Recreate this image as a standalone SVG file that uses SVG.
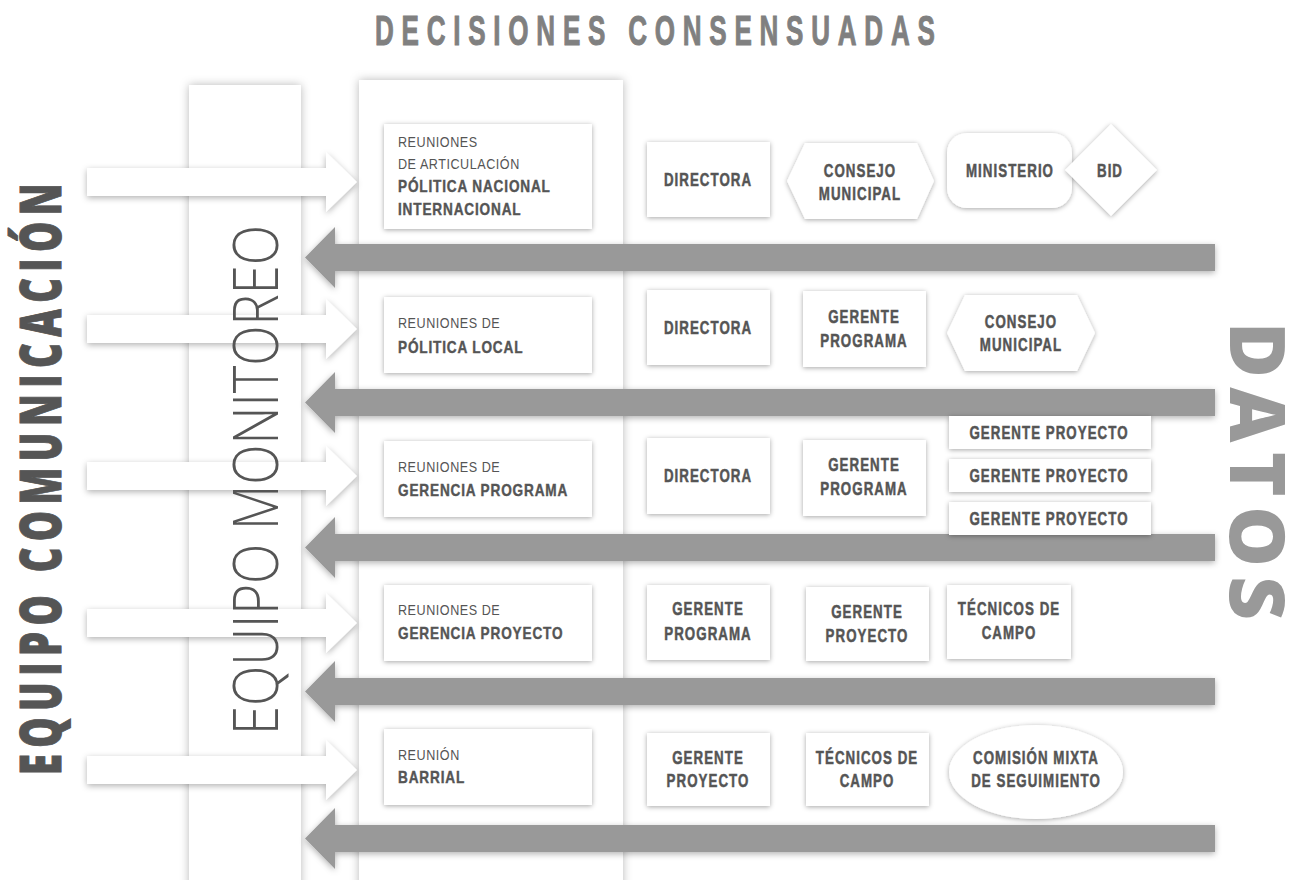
<svg xmlns="http://www.w3.org/2000/svg" width="1297" height="880" viewBox="0 0 1297 880">
<defs>
<filter id="psh" x="-20%" y="-5%" width="140%" height="110%"><feDropShadow dx="0" dy="0" stdDeviation="5" flood-color="#000" flood-opacity="0.28"/></filter>
<filter id="sh" x="-20%" y="-30%" width="140%" height="160%"><feDropShadow dx="0" dy="1" stdDeviation="2.5" flood-color="#000" flood-opacity="0.35"/></filter>
<filter id="ash" x="-5%" y="-40%" width="110%" height="180%"><feDropShadow dx="0" dy="2" stdDeviation="3" flood-color="#000" flood-opacity="0.3"/></filter>
</defs>
<style>
.panel{fill:#fff;filter:url(#psh)}
.box{fill:#fff;filter:url(#sh)}
.wa{fill:#fff;filter:url(#ash)}
.ga{fill:#999;filter:url(#ash)}
.nt{font-family:"Liberation Sans",Arial,sans-serif;font-weight:bold;font-size:18px;fill:#555;stroke:#555;stroke-width:0.5px;letter-spacing:1.4px;text-anchor:middle}
.ml{font-family:"Liberation Sans",Arial,sans-serif;font-size:14px;fill:#555;letter-spacing:0.6px}
.mb{font-family:"Liberation Sans",Arial,sans-serif;font-weight:bold;font-size:16px;fill:#555;stroke:#555;stroke-width:0.4px;letter-spacing:1px}
.title{font-family:"Liberation Sans",Arial,sans-serif;font-weight:bold;font-size:42px;fill:#808080;stroke:#808080;stroke-width:1px}
.com{font-family:"Open Sans","Liberation Sans",sans-serif;font-weight:800;font-size:56px;fill:#555;stroke:#555;stroke-width:1px}
.mon{font-family:"Open Sans","Liberation Sans",sans-serif;font-weight:300;font-size:62px;fill:#555}
.dat{font-family:"Open Sans","Liberation Sans",sans-serif;font-weight:800;font-size:76px;fill:#999}
</style>
<rect width="1297" height="880" fill="#fff"/>

<text class="title" transform="translate(375,45) scale(0.62,1)" textLength="903" lengthAdjust="spacing">DECISIONES CONSENSUADAS</text>

<g id="col-monitoreo"><rect class="panel" x="189" y="85" width="112" height="810"/></g>
<g id="col-reuniones"><rect class="panel" x="359" y="80" width="264" height="815"/></g>

<g id="connectors">
<polygon class="wa" points="87,168 326,168 326,152 357,182 326,212 326,196 87,196"/>
<polygon class="wa" points="87,315 326,315 326,299 357,329 326,359 326,343 87,343"/>
<polygon class="wa" points="87,462 326,462 326,446 357,476 326,506 326,490 87,490"/>
<polygon class="wa" points="87,609 326,609 326,593 357,623 326,653 326,637 87,637"/>
<polygon class="wa" points="87,756 326,756 326,740 357,770 326,800 326,784 87,784"/>
<polygon class="ga" points="1215,244 335,244 335,227 305,257.5 335,288 335,271 1215,271"/>
<polygon class="ga" points="1215,389 335,389 335,372 305,402.5 335,433 335,416 1215,416"/>
<polygon class="ga" points="1215,534 335,534 335,517 305,547.5 335,578 335,561 1215,561"/>
<polygon class="ga" points="1215,678 335,678 335,661 305,691.5 335,722 335,705 1215,705"/>
<polygon class="ga" points="1215,825 335,825 335,808 305,838.5 335,869 335,852 1215,852"/>
</g>

<text class="com" transform="translate(61,775) rotate(-90) scale(0.68,1)" textLength="870" lengthAdjust="spacing">EQUIPO COMUNICACIÓN</text>
<text class="mon" transform="translate(278,735) rotate(-90)" textLength="510" lengthAdjust="spacingAndGlyphs">EQUIPO MONITOREO</text>
<text class="dat" transform="translate(1230,322) rotate(90)" textLength="298" lengthAdjust="spacing">DATOS</text>

<!-- meeting boxes -->
<g id="m1"><rect class="box" x="384" y="124" width="208" height="105"/>
<text class="ml" transform="translate(398,147) scale(0.9,1)">REUNIONES</text>
<text class="ml" transform="translate(398,169) scale(0.9,1)">DE ARTICULACIÓN</text>
<text class="mb" transform="translate(398,192) scale(0.85,1)">PÓLITICA NACIONAL</text>
<text class="mb" transform="translate(398,215) scale(0.85,1)">INTERNACIONAL</text></g>
<g id="m2"><rect class="box" x="384" y="297" width="208" height="76"/>
<text class="ml" transform="translate(398,328) scale(0.9,1)">REUNIONES DE</text>
<text class="mb" transform="translate(398,353) scale(0.85,1)">PÓLITICA LOCAL</text></g>
<g id="m3"><rect class="box" x="384" y="441" width="208" height="76"/>
<text class="ml" transform="translate(398,472) scale(0.9,1)">REUNIONES DE</text>
<text class="mb" transform="translate(398,496) scale(0.85,1)">GERENCIA PROGRAMA</text></g>
<g id="m4"><rect class="box" x="384" y="585" width="208" height="76"/>
<text class="ml" transform="translate(398,615) scale(0.9,1)">REUNIONES DE</text>
<text class="mb" transform="translate(398,639) scale(0.85,1)">GERENCIA PROYECTO</text></g>
<g id="m5"><rect class="box" x="384" y="729" width="208" height="76"/>
<text class="ml" transform="translate(398,760) scale(0.9,1)">REUNIÓN</text>
<text class="mb" transform="translate(398,783) scale(0.85,1)">BARRIAL</text></g>

<!-- row 1 -->
<g id="r1-directora"><rect class="box" x="647" y="142" width="123" height="75"/><text class="nt" transform="translate(708,186) scale(0.74,1)">DIRECTORA</text></g>
<g id="r1-consejo"><polygon class="box" points="787,181 805,143 917,143 934,181 917,219 805,219"/><text class="nt" transform="translate(860,177) scale(0.74,1)">CONSEJO</text><text class="nt" transform="translate(860,200) scale(0.74,1)">MUNICIPAL</text></g>
<g id="r1-ministerio"><rect class="box" x="947" y="133" width="125" height="75" rx="20"/><text class="nt" transform="translate(1010,177) scale(0.74,1)">MINISTERIO</text></g>
<g id="r1-bid"><polygon class="box" points="1111,124 1157,170 1111,216 1065,170"/><text class="nt" transform="translate(1110,177) scale(0.74,1)">BID</text></g>

<!-- row 2 -->
<g id="r2-directora"><rect class="box" x="647" y="290" width="123" height="75"/><text class="nt" transform="translate(708,334) scale(0.74,1)">DIRECTORA</text></g>
<g id="r2-gerente"><rect class="box" x="803" y="291" width="123" height="76"/><text class="nt" transform="translate(864,323) scale(0.74,1)">GERENTE</text><text class="nt" transform="translate(864,347) scale(0.74,1)">PROGRAMA</text></g>
<g id="r2-consejo"><polygon class="box" points="947,333 965,295 1077,295 1095,333 1077,371 965,371"/><text class="nt" transform="translate(1021,328) scale(0.74,1)">CONSEJO</text><text class="nt" transform="translate(1021,351) scale(0.74,1)">MUNICIPAL</text></g>

<!-- row 3 -->
<g id="r3-directora"><rect class="box" x="647" y="438" width="123" height="76"/><text class="nt" transform="translate(708,482) scale(0.74,1)">DIRECTORA</text></g>
<g id="r3-gerente"><rect class="box" x="803" y="440" width="123" height="76"/><text class="nt" transform="translate(864,471) scale(0.74,1)">GERENTE</text><text class="nt" transform="translate(864,495) scale(0.74,1)">PROGRAMA</text></g>
<g id="r3-gp1"><rect class="box" x="949" y="416" width="202" height="33"/><text class="nt" transform="translate(1049,439) scale(0.74,1)">GERENTE PROYECTO</text></g>
<g id="r3-gp2"><rect class="box" x="949" y="459" width="202" height="33"/><text class="nt" transform="translate(1049,482) scale(0.74,1)">GERENTE PROYECTO</text></g>
<g id="r3-gp3"><rect class="box" x="949" y="502" width="202" height="33"/><text class="nt" transform="translate(1049,525) scale(0.74,1)">GERENTE PROYECTO</text></g>

<!-- row 4 -->
<g id="r4-gprog"><rect class="box" x="647" y="585" width="123" height="75"/><text class="nt" transform="translate(708,615) scale(0.74,1)">GERENTE</text><text class="nt" transform="translate(708,640) scale(0.74,1)">PROGRAMA</text></g>
<g id="r4-gproy"><rect class="box" x="806" y="587" width="123" height="74"/><text class="nt" transform="translate(867,618) scale(0.74,1)">GERENTE</text><text class="nt" transform="translate(867,642) scale(0.74,1)">PROYECTO</text></g>
<g id="r4-tecnicos"><rect class="box" x="947" y="585" width="124" height="74"/><text class="nt" transform="translate(1009,615) scale(0.74,1)">TÉCNICOS DE</text><text class="nt" transform="translate(1009,639) scale(0.74,1)">CAMPO</text></g>

<!-- row 5 -->
<g id="r5-gproy"><rect class="box" x="647" y="733" width="123" height="73"/><text class="nt" transform="translate(708,764) scale(0.74,1)">GERENTE</text><text class="nt" transform="translate(708,787) scale(0.74,1)">PROYECTO</text></g>
<g id="r5-tecnicos"><rect class="box" x="806" y="733" width="123" height="73"/><text class="nt" transform="translate(867,764) scale(0.74,1)">TÉCNICOS DE</text><text class="nt" transform="translate(867,787) scale(0.74,1)">CAMPO</text></g>
<g id="r5-comision"><ellipse class="box" cx="1036" cy="772" rx="87" ry="47"/><text class="nt" transform="translate(1036,764) scale(0.74,1)">COMISIÓN MIXTA</text><text class="nt" transform="translate(1036,787) scale(0.74,1)">DE SEGUIMIENTO</text></g>
</svg>
